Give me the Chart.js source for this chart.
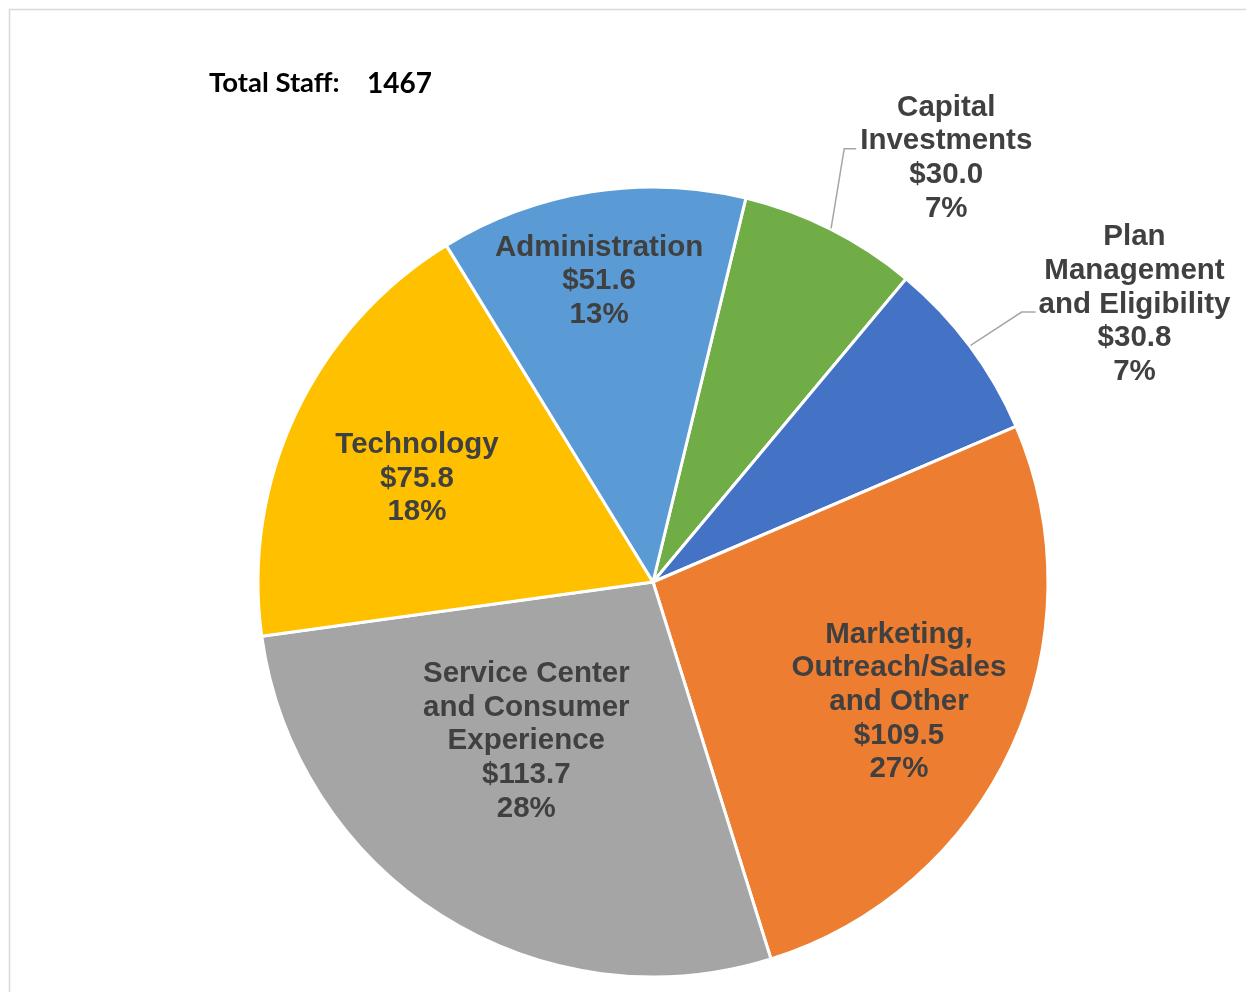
<!DOCTYPE html>
<html>
<head>
<meta charset="utf-8">
<script src="https://cdn.jsdelivr.net/npm/chart.js@4.4.1/dist/chart.umd.min.js"></script>
<style>
  html, body { margin: 0; padding: 0; background: #ffffff; }
  #chart { display: block; }
</style>
</head>
<body>
<canvas id="chart" width="1246" height="992"></canvas>
<script>
// Dados do gráfico (milhões de dólares)
const categories = [
    'Capital Investments',
    'Plan Management and Eligibility',
    'Marketing, Outreach/Sales and Other',
    'Service Center and Consumer Experience',
    'Technology',
    'Administration'
];
const categoryLines = [
    ['Capital', 'Investments'],
    ['Plan', 'Management', 'and Eligibility'],
    ['Marketing,', 'Outreach/Sales', 'and Other'],
    ['Service Center', 'and Consumer', 'Experience'],
    ['Technology'],
    ['Administration']
];
const budgetValues = [30.0, 30.8, 109.5, 113.7, 75.8, 51.6];
const totalStaffLabel = 'Total Staff:';
const totalStaff = 1467;

// Estilos
const sliceColors = ['#70AD47', '#4472C4', '#ED7D31', '#A5A5A5', '#FFC000', '#5B9BD5'];
const textColor = '#404040';
const labelFont = 'bold 29.5px "Liberation Sans", Arial, sans-serif';
const lineHeight = 33.7;
const textNudge = 2.5; // compensa o 'middle' do canvas, que fica um pouco alto

// Onde fica cada rótulo: fração do raio e desvio do ângulo médio (graus)
const labelPlacement = [
    { r: 1.31, da: 7.8, leader: { line: 1, gap: 4, run: 12 } },
    { r: 1.41, da: 6.5, leader: { line: 2, gap: 3, run: 14 } },
    { r: 0.69, da: 0.8 },
    { r: 0.51, da: 6.6 },
    { r: 0.655, da: -1.1 },
    { r: 0.78, da: -1.1 }
];

const total = budgetValues.reduce((a, b) => a + b, 0);

// Moldura cinza clara à volta do gráfico
const framePlugin = {
    id: 'frame',
    beforeDraw(chart) {
        const ctx = chart.ctx;
        ctx.save();
        ctx.strokeStyle = '#d9d9d9';
        ctx.lineWidth = 1.5;
        ctx.beginPath();
        ctx.moveTo(9.5, chart.height);
        ctx.lineTo(9.5, 9.5);
        ctx.lineTo(chart.width, 9.5);
        ctx.stroke();
        ctx.restore();
    }
};

// Texto "Total Staff"
const staffPlugin = {
    id: 'staff',
    afterDraw(chart) {
        const ctx = chart.ctx;
        ctx.save();
        ctx.fillStyle = '#000000';
        ctx.textBaseline = 'middle';
        ctx.textAlign = 'left';
        ctx.font = 'bold 27.5px Lato, "Open Sans", sans-serif';
        ctx.fillText(totalStaffLabel, 209, 83);
        ctx.font = 'bold 28px Lato, "Open Sans", sans-serif';
        ctx.fillText(String(totalStaff), 367, 84);
        ctx.restore();
    }
};

// Rótulos das fatias (nome, valor, percentagem) e linhas de chamada
const sliceLabelPlugin = {
    id: 'sliceLabels',
    afterDatasetsDraw(chart) {
        const ctx = chart.ctx;
        const meta = chart.getDatasetMeta(0);
        ctx.save();
        ctx.font = labelFont;
        ctx.fillStyle = textColor;
        ctx.textAlign = 'center';
        ctx.textBaseline = 'middle';

        meta.data.forEach((arc, i) => {
            const p = arc.getProps(['x', 'y', 'startAngle', 'endAngle', 'outerRadius'], true);
            const place = labelPlacement[i];
            const mid = (p.startAngle + p.endAngle) / 2;
            const ang = mid + place.da * Math.PI / 180;
            const cx = p.x + Math.cos(ang) * p.outerRadius * place.r;
            const cy = p.y + Math.sin(ang) * p.outerRadius * place.r;

            const value = budgetValues[i];
            const lines = categoryLines[i].concat([
                '$' + value.toFixed(1),
                Math.round(value / total * 100) + '%'
            ]);
            const top = cy - (lines.length - 1) * lineHeight / 2;
            lines.forEach((txt, k) => {
                ctx.fillText(txt, cx, top + k * lineHeight + textNudge);
            });

            if (place.leader) {
                const k = place.leader.line;
                const w = ctx.measureText(lines[k]).width;
                const endX = cx - w / 2 - place.leader.gap;
                const endY = top + k * lineHeight + 10;
                const sx = p.x + Math.cos(mid) * (p.outerRadius + 1);
                const sy = p.y + Math.sin(mid) * (p.outerRadius + 1);
                ctx.save();
                ctx.strokeStyle = '#A6A6A6';
                ctx.lineWidth = 1.5;
                ctx.beginPath();
                ctx.moveTo(sx, sy);
                ctx.lineTo(endX - place.leader.run, endY);
                ctx.lineTo(endX, endY);
                ctx.stroke();
                ctx.restore();
            }
        });
        ctx.restore();
    }
};

const ctx = document.getElementById('chart').getContext('2d');
new Chart(ctx, {
    type: 'pie',
    data: {
        labels: categories,
        datasets: [{
            data: budgetValues,
            backgroundColor: sliceColors,
            borderColor: '#ffffff',
            borderWidth: 3,
            hoverOffset: 0
        }]
    },
    options: {
        responsive: false,
        animation: false,
        rotation: 13.6,
        layout: {
            padding: { left: 256.5, right: 196.5, top: 185.5, bottom: 13.5 }
        },
        plugins: {
            legend: { display: false },
            tooltip: { enabled: false }
        }
    },
    plugins: [framePlugin, sliceLabelPlugin, staffPlugin]
});
</script>
</body>
</html>
